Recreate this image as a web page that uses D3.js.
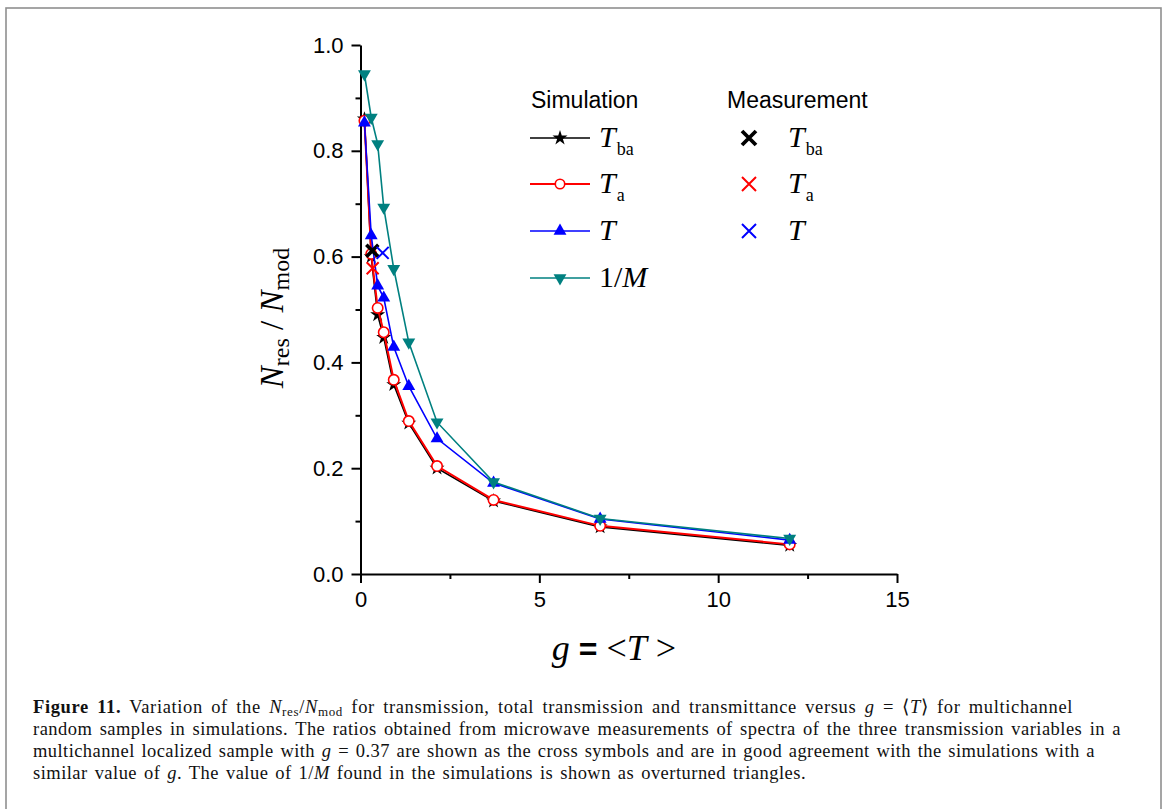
<!DOCTYPE html>
<html>
<head>
<meta charset="utf-8">
<script src="https://cdn.jsdelivr.net/npm/d3@7"></script>
<style>
  body { margin: 0; background: #fff; }
  svg { display: block; }
</style>
</head>
<body>
<svg id="chart" width="1165" height="809"></svg>
<script>
// g = <T> values shared by all simulated series
const gValues = [0.11, 0.3, 0.48, 0.65, 0.93, 1.35, 2.14, 3.72, 6.7, 12.0];
const tbaSim = [0.860, 0.600, 0.490, 0.447, 0.358, 0.285, 0.200, 0.138, 0.089, 0.054];
const taSim  = [0.857, 0.605, 0.503, 0.457, 0.367, 0.289, 0.204, 0.140, 0.091, 0.056];
const tSim   = [0.853, 0.640, 0.545, 0.522, 0.429, 0.355, 0.256, 0.172, 0.104, 0.064];
const invM   = [0.945, 0.863, 0.813, 0.693, 0.577, 0.438, 0.287, 0.174, 0.105, 0.067];

// measurements (crosses)
const measG   = [0.33, 0.34, 0.62];
const measVal = [0.611, 0.578, 0.607];

const xTicks = [0, 5, 10, 15];
const xMinor = [2.5, 7.5, 12.5];
const yTicks = [0, 0.2, 0.4, 0.6, 0.8, 1.0];
const yMinor = [0.1, 0.3, 0.5, 0.7, 0.9];

const simLabels = [["T", "ba"], ["T", "a"], ["T", ""], ["1/M", ""]];
const measLabels = [["T", "ba"], ["T", "a"], ["T", ""]];

const captionLines = [
  [["b", "Figure 11."], ["", " Variation of the "], ["i", "N"], ["s", "res"], ["", "/"], ["i", "N"], ["s", "mod"],
   ["", " for transmission, total transmission and transmittance versus "], ["i", "g"], ["", " = \u27E8"], ["i", "T"], ["", "\u27E9 for multichannel"]],
  [["", "random samples in simulations. The ratios obtained from microwave measurements of spectra of the three transmission variables in a"]],
  [["", "multichannel localized sample with "], ["i", "g"], ["", " = 0.37 are shown as the cross symbols and are in good agreement with the simulations with a"]],
  [["", "similar value of "], ["i", "g"], ["", ". The value of 1/"], ["i", "M"], ["", " found in the simulations is shown as overturned triangles."]]
];
const captionEnds = [1073, 1121, 1095, 806];

const sans = "'Liberation Sans', Arial, sans-serif";
const serif = "'Liberation Serif', 'Times New Roman', serif";

let svg = d3.select("#chart");

// frame
svg.append("rect")
  .attr("x", 6).attr("y", 8)
  .attr("width", 1155).attr("height", 830)
  .attr("fill", "none")
  .attr("stroke", "#8f8f8f")
  .attr("stroke-width", 1.6);

let x = d3.scaleLinear().domain([0, 15]).range([360.5, 897]);
let y = d3.scaleLinear().domain([0, 1]).range([574, 45]);

// axes
svg.append("g")
  .attr("transform", "translate(0,574)")
  .call(d3.axisBottom(x).tickValues(xTicks).tickSize(9).tickPadding(8).tickSizeOuter(0).tickFormat(d3.format("d")));
svg.append("g")
  .attr("transform", "translate(0,574)")
  .call(d3.axisBottom(x).tickValues(xMinor).tickSize(5).tickSizeOuter(0).tickFormat(""))
  .select(".domain").remove();

svg.append("g")
  .attr("transform", "translate(360.5,0)")
  .call(d3.axisLeft(y).tickValues(yTicks).tickSize(9).tickPadding(8).tickSizeOuter(0).tickFormat(d3.format(".1f")));
svg.append("g")
  .attr("transform", "translate(360.5,0)")
  .call(d3.axisLeft(y).tickValues(yMinor).tickSize(5).tickSizeOuter(0).tickFormat(""))
  .select(".domain").remove();

svg.selectAll(".tick line, .domain").attr("stroke", "#000").attr("stroke-width", 2);
svg.selectAll(".tick text").attr("font-family", sans).attr("font-size", 22).attr("fill", "#000");

// axis titles
let xt = svg.append("text")
  .attr("x", 614).attr("y", 660)
  .attr("text-anchor", "middle")
  .attr("font-family", serif).attr("font-size", 36);
xt.append("tspan").attr("font-style", "italic").text("g");
xt.append("tspan").text(" ");
xt.append("tspan").attr("font-family", sans).attr("font-weight", "bold").attr("font-size", 32).text("=");
xt.append("tspan").text(" <");
xt.append("tspan").attr("font-style", "italic").text("T");
xt.append("tspan").text(" >");

let yt = svg.append("text")
  .attr("transform", "translate(283,318) rotate(-90)")
  .attr("text-anchor", "middle")
  .attr("font-family", serif).attr("font-size", 33);
yt.append("tspan").attr("font-style", "italic").text("N");
yt.append("tspan").attr("font-size", 24).attr("baseline-shift", -6).text("res");
yt.append("tspan").text(" / ");
yt.append("tspan").attr("font-style", "italic").text("N");
yt.append("tspan").attr("font-size", 24).attr("baseline-shift", -6).text("mod");

// series
let series = [
  { values: tbaSim, color: "#000000", symbol: d3.symbolStar, size: 70, fill: "#000000", width: 1.6, rot: 0 },
  { values: taSim, color: "#ff0000", symbol: d3.symbolCircle, size: 85, fill: "#ffffff", width: 2, rot: 0 },
  { values: tSim, color: "#0000ff", symbol: d3.symbolTriangle, size: 72, fill: "#0000ff", width: 1.6, rot: 0 },
  { values: invM, color: "#008080", symbol: d3.symbolTriangle, size: 72, fill: "#008080", width: 1.6, rot: 180 }
];

let line = d3.line().x(d => x(d[0])).y(d => y(d[1]));

series.forEach(s => {
  let pts = gValues.map((g, i) => [g, s.values[i]]);
  svg.append("path")
    .datum(pts)
    .attr("d", line)
    .attr("fill", "none")
    .attr("stroke", s.color)
    .attr("stroke-width", s.width);
  svg.append("g").selectAll("path")
    .data(pts)
    .enter().append("path")
    .attr("transform", d => `translate(${x(d[0])},${y(d[1])}) rotate(${s.rot})`)
    .attr("d", d3.symbol().type(s.symbol).size(s.size))
    .attr("fill", s.fill)
    .attr("stroke", s.symbol === d3.symbolCircle ? s.color : "none")
    .attr("stroke-width", 1.6);
});

// measurement crosses
let measStyle = [
  { color: "#000000", w: 3.6, r: 6 },
  { color: "#ff0000", w: 2, r: 6 },
  { color: "#0000ff", w: 2, r: 6 }
];
function crossPath(r) {
  return `M${-r},${-r}L${r},${r}M${-r},${r}L${r},${-r}`;
}
measG.forEach((g, i) => {
  svg.append("path")
    .attr("transform", `translate(${x(g)},${y(measVal[i])})`)
    .attr("d", crossPath(measStyle[i].r))
    .attr("stroke", measStyle[i].color)
    .attr("stroke-width", measStyle[i].w)
    .attr("fill", "none");
});

// legend
let legend = svg.append("g");
legend.append("text").attr("x", 531).attr("y", 108)
  .attr("font-family", sans).attr("font-size", 23).text("Simulation");
legend.append("text").attr("x", 727).attr("y", 108)
  .attr("font-family", sans).attr("font-size", 23).text("Measurement");

let rowY = [138, 184, 231, 278];

function legendLabel(xPos, yPos, lab) {
  let t = legend.append("text").attr("x", xPos).attr("y", yPos + 9)
    .attr("font-family", serif).attr("font-size", 30);
  if (lab[0] === "1/M") {
    t.append("tspan").text("1/");
    t.append("tspan").attr("font-style", "italic").text("M");
  } else {
    t.append("tspan").attr("font-style", "italic").text(lab[0]);
    if (lab[1]) t.append("tspan").attr("font-size", 18).attr("dx", 1).attr("baseline-shift", -8).text(lab[1]);
  }
}

series.forEach((s, i) => {
  legend.append("line")
    .attr("x1", 530).attr("x2", 590)
    .attr("y1", rowY[i]).attr("y2", rowY[i])
    .attr("stroke", s.color).attr("stroke-width", s.width);
  legend.append("path")
    .attr("transform", `translate(560,${rowY[i]}) rotate(${s.rot})`)
    .attr("d", d3.symbol().type(s.symbol).size(s.symbol === d3.symbolCircle ? 70 : s.size))
    .attr("fill", s.fill)
    .attr("stroke", s.symbol === d3.symbolCircle ? s.color : "none")
    .attr("stroke-width", 1.6);
  legendLabel(599, rowY[i], simLabels[i]);
});

measLabels.forEach((lab, i) => {
  legend.append("path")
    .attr("transform", `translate(749,${rowY[i]})`)
    .attr("d", crossPath(7))
    .attr("stroke", measStyle[i].color)
    .attr("stroke-width", i === 0 ? 3.8 : 2)
    .attr("fill", "none");
  legendLabel(788, rowY[i], lab);
});

// caption: stretch each line to the width it has in the figure
let capY = [713, 735, 757, 779];
captionLines.forEach((parts, i) => {
  let t = svg.append("text")
    .attr("x", 33).attr("y", capY[i])
    .attr("font-family", serif).attr("font-size", 18.5).attr("fill", "#111");
  parts.forEach(p => {
    let ts = t.append("tspan").text(p[1]);
    if (p[0] === "b") ts.attr("font-weight", "bold");
    if (p[0] === "i") ts.attr("font-style", "italic");
    if (p[0] === "s") ts.attr("font-size", 13).attr("baseline-shift", -3);
  });
  let full = parts.map(p => p[1]).join("");
  let spaces = (full.match(/ /g) || []).length;
  let chars = full.length;
  let extra = captionEnds[i] - 33 - t.node().getComputedTextLength();
  if (extra > 0) {
    t.attr("letter-spacing", 0.6 * extra / chars);
    t.attr("word-spacing", 0.4 * extra / spaces);
  }
});
</script>
</body>
</html>
